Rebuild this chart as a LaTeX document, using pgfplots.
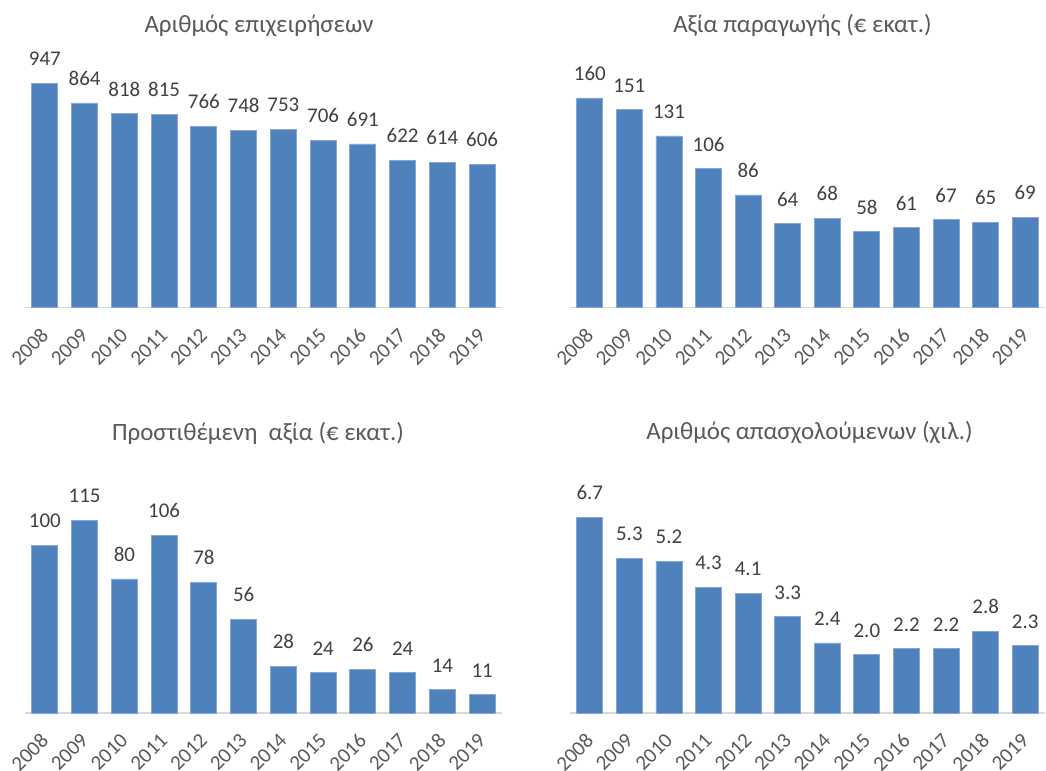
\documentclass[border=0pt]{standalone}
\usepackage{fontspec}
\setmainfont{Carlito}
\usepackage{pgfplots}
\pgfplotsset{compat=1.18}
\definecolor{barblue}{RGB}{79,129,189}
\definecolor{baredge}{RGB}{135,168,212}
\definecolor{axisgray}{RGB}{217,217,217}
\definecolor{tickgray}{RGB}{89,89,89}
\definecolor{labgray}{RGB}{64,64,64}
\newcommand{\titlefont}{\fontsize{25}{30}\selectfont}
\newcommand{\labfont}{\fontsize{21}{25}\selectfont}
\pgfplotsset{
  panel/.style={
    scale only axis,
    anchor=south west,
    ybar,
    bar width=26bp,
    xmin=2007.5, xmax=2019.5,
    ymin=0,
    xtick=data,
    ytick=\empty,
    axis x line=bottom,
    axis y line=none,
    x axis line style={-, draw=axisgray, line width=1.5bp},
    major tick length=0pt,
    /pgf/number format/assume math mode=true,
    xticklabel style={/pgf/number format/1000 sep={}, font=\labfont, text=tickgray,
      inner sep=0pt, yshift=-24bp, rotate=45, anchor=east},
    nodes near coords,
    every node near coord/.append style={font=\labfont, text=labgray, anchor=south, inner sep=0pt, yshift=17bp},
    clip=false,
  },
  barstyle/.style={fill=barblue, draw=baredge, line width=0.8bp},
}
\begin{document}
\begin{tikzpicture}
\path[use as bounding box] (0,0) rectangle (1046bp,771bp);

% Top-left: number of enterprises
\begin{axis}[panel, at={(25bp,463.3bp)}, width=477bp, height=237bp, ymax=1000]
\addplot[barstyle] coordinates {(2008,947) (2009,864) (2010,818) (2011,815) (2012,766) (2013,748) (2014,753) (2015,706) (2016,691) (2017,622) (2018,614) (2019,606)};
\end{axis}

% Top-right: production value
\begin{axis}[panel, at={(570bp,463.3bp)}, width=475bp, height=236bp, ymax=180]
\addplot[barstyle] coordinates {(2008,160) (2009,151) (2010,131) (2011,106) (2012,86) (2013,64) (2014,68) (2015,58) (2016,61) (2017,67) (2018,65) (2019,69)};
\end{axis}

% Bottom-left: value added
\begin{axis}[panel, at={(25bp,58bp)}, width=477bp, height=234.5bp, ymax=140]
\addplot[barstyle] coordinates {(2008,100) (2009,115) (2010,80) (2011,106) (2012,78) (2013,56) (2014,28) (2015,24) (2016,26) (2017,24) (2018,14) (2019,11)};
\end{axis}

% Bottom-right: employed persons
\begin{axis}[panel, at={(570bp,58bp)}, width=475bp, height=233.6bp, ymax=8,
  nodes near coords={\pgfmathprintnumber[fixed,precision=1,zerofill]{\pgfplotspointmeta}}]
\addplot[barstyle] coordinates {(2008,6.7) (2009,5.3) (2010,5.2) (2011,4.3) (2012,4.1) (2013,3.3) (2014,2.4) (2015,2.0) (2016,2.2) (2017,2.2) (2018,2.8) (2019,2.3)};
\end{axis}

\node[font=\titlefont, text=tickgray, anchor=base, inner sep=0pt] at (259bp,738.5bp) {Αριθμός επιχειρήσεων};
\node[font=\titlefont, text=tickgray, anchor=base, inner sep=0pt] at (802.5bp,738.5bp) {Αξία παραγωγής (€ εκατ.)};
\node[font=\titlefont, text=tickgray, anchor=base, inner sep=0pt] at (258bp,330bp) {Προστιθέμενη\ \ αξία (€ εκατ.)};
\node[font=\titlefont, text=tickgray, anchor=base, inner sep=0pt] at (809.5bp,331.5bp) {Αριθμός απασχολούμενων (χιλ.)};
\end{tikzpicture}
\end{document}
